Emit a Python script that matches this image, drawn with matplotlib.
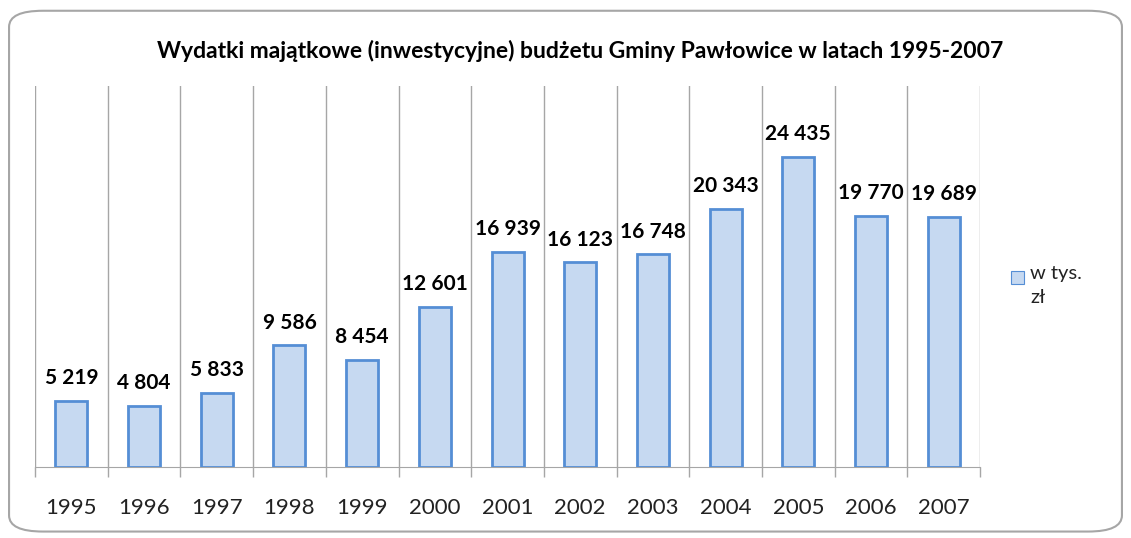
import matplotlib
matplotlib.use("Agg")
import matplotlib.pyplot as plt
from matplotlib.patches import FancyBboxPatch, Rectangle
import numpy as np

years = ["1995", "1996", "1997", "1998", "1999", "2000", "2001",
         "2002", "2003", "2004", "2005", "2006", "2007"]
values = [5219, 4804, 5833, 9586, 8454, 12601, 16939,
          16123, 16748, 20343, 24435, 19770, 19689]
title = "Wydatki majątkowe (inwestycyjne) budżetu Gminy Pawłowice w latach 1995-2007"
legend_label = "w tys.\nzł"

plt.rcParams["font.family"] = ["Lato", "DejaVu Sans"]

fig = plt.figure(figsize=(11.31, 5.38), dpi=100)

# outer rounded frame
frame = FancyBboxPatch((0.008, 0.012), 0.984, 0.968,
                       boxstyle="round,pad=0,rounding_size=0.03",
                       transform=fig.transFigure, fill=False,
                       edgecolor="#A6A6A6", linewidth=1.5)
fig.patches.append(frame)

ax = fig.add_axes([0.031, 0.132, 0.8355, 0.708])
x = np.arange(len(years))
ax.bar(x, values, width=0.44, color="#C6D9F1", edgecolor="#558ED5",
       linewidth=2, zorder=3)

for xi, v in zip(x, values):
    label = f"{v:,}".replace(",", " ")
    ax.text(xi, v + 1000, label, ha="center", va="bottom",
            fontsize=15, fontweight="bold", color="black")

ax.set_xlim(-0.5, len(years) - 0.5)
ax.set_ylim(0, 30000)

# vertical gridlines at category boundaries
for b in np.arange(-0.5, len(years), 1.0):
    ax.axvline(b, color="#A6A6A6", linewidth=1, zorder=1)

ax.set_yticks([])
ax.set_xticks(x)
ax.set_xticklabels(years, fontsize=16, color="#222222")
ax.tick_params(axis="x", length=0, pad=22)
ax.set_xticks(np.arange(-0.5, len(years), 1.0), minor=True)
ax.tick_params(axis="x", which="minor", length=7, color="#A6A6A6", width=1)

for side in ["top", "right", "left"]:
    ax.spines[side].set_visible(False)
ax.spines["bottom"].set_color("#A6A6A6")

fig.text(0.513, 0.905, title, ha="center", va="center",
         fontsize=16.5, fontweight="bold")

# legend
fig.patches.append(Rectangle((0.8935, 0.472), 0.0115, 0.024,
                             transform=fig.transFigure,
                             facecolor="#C6D9F1", edgecolor="#558ED5",
                             linewidth=0.8))
fig.text(0.911, 0.508, legend_label, ha="left", va="top",
         fontsize=14.5, color="#222222", linespacing=1.5)

fig.savefig("out.png", dpi=100)
